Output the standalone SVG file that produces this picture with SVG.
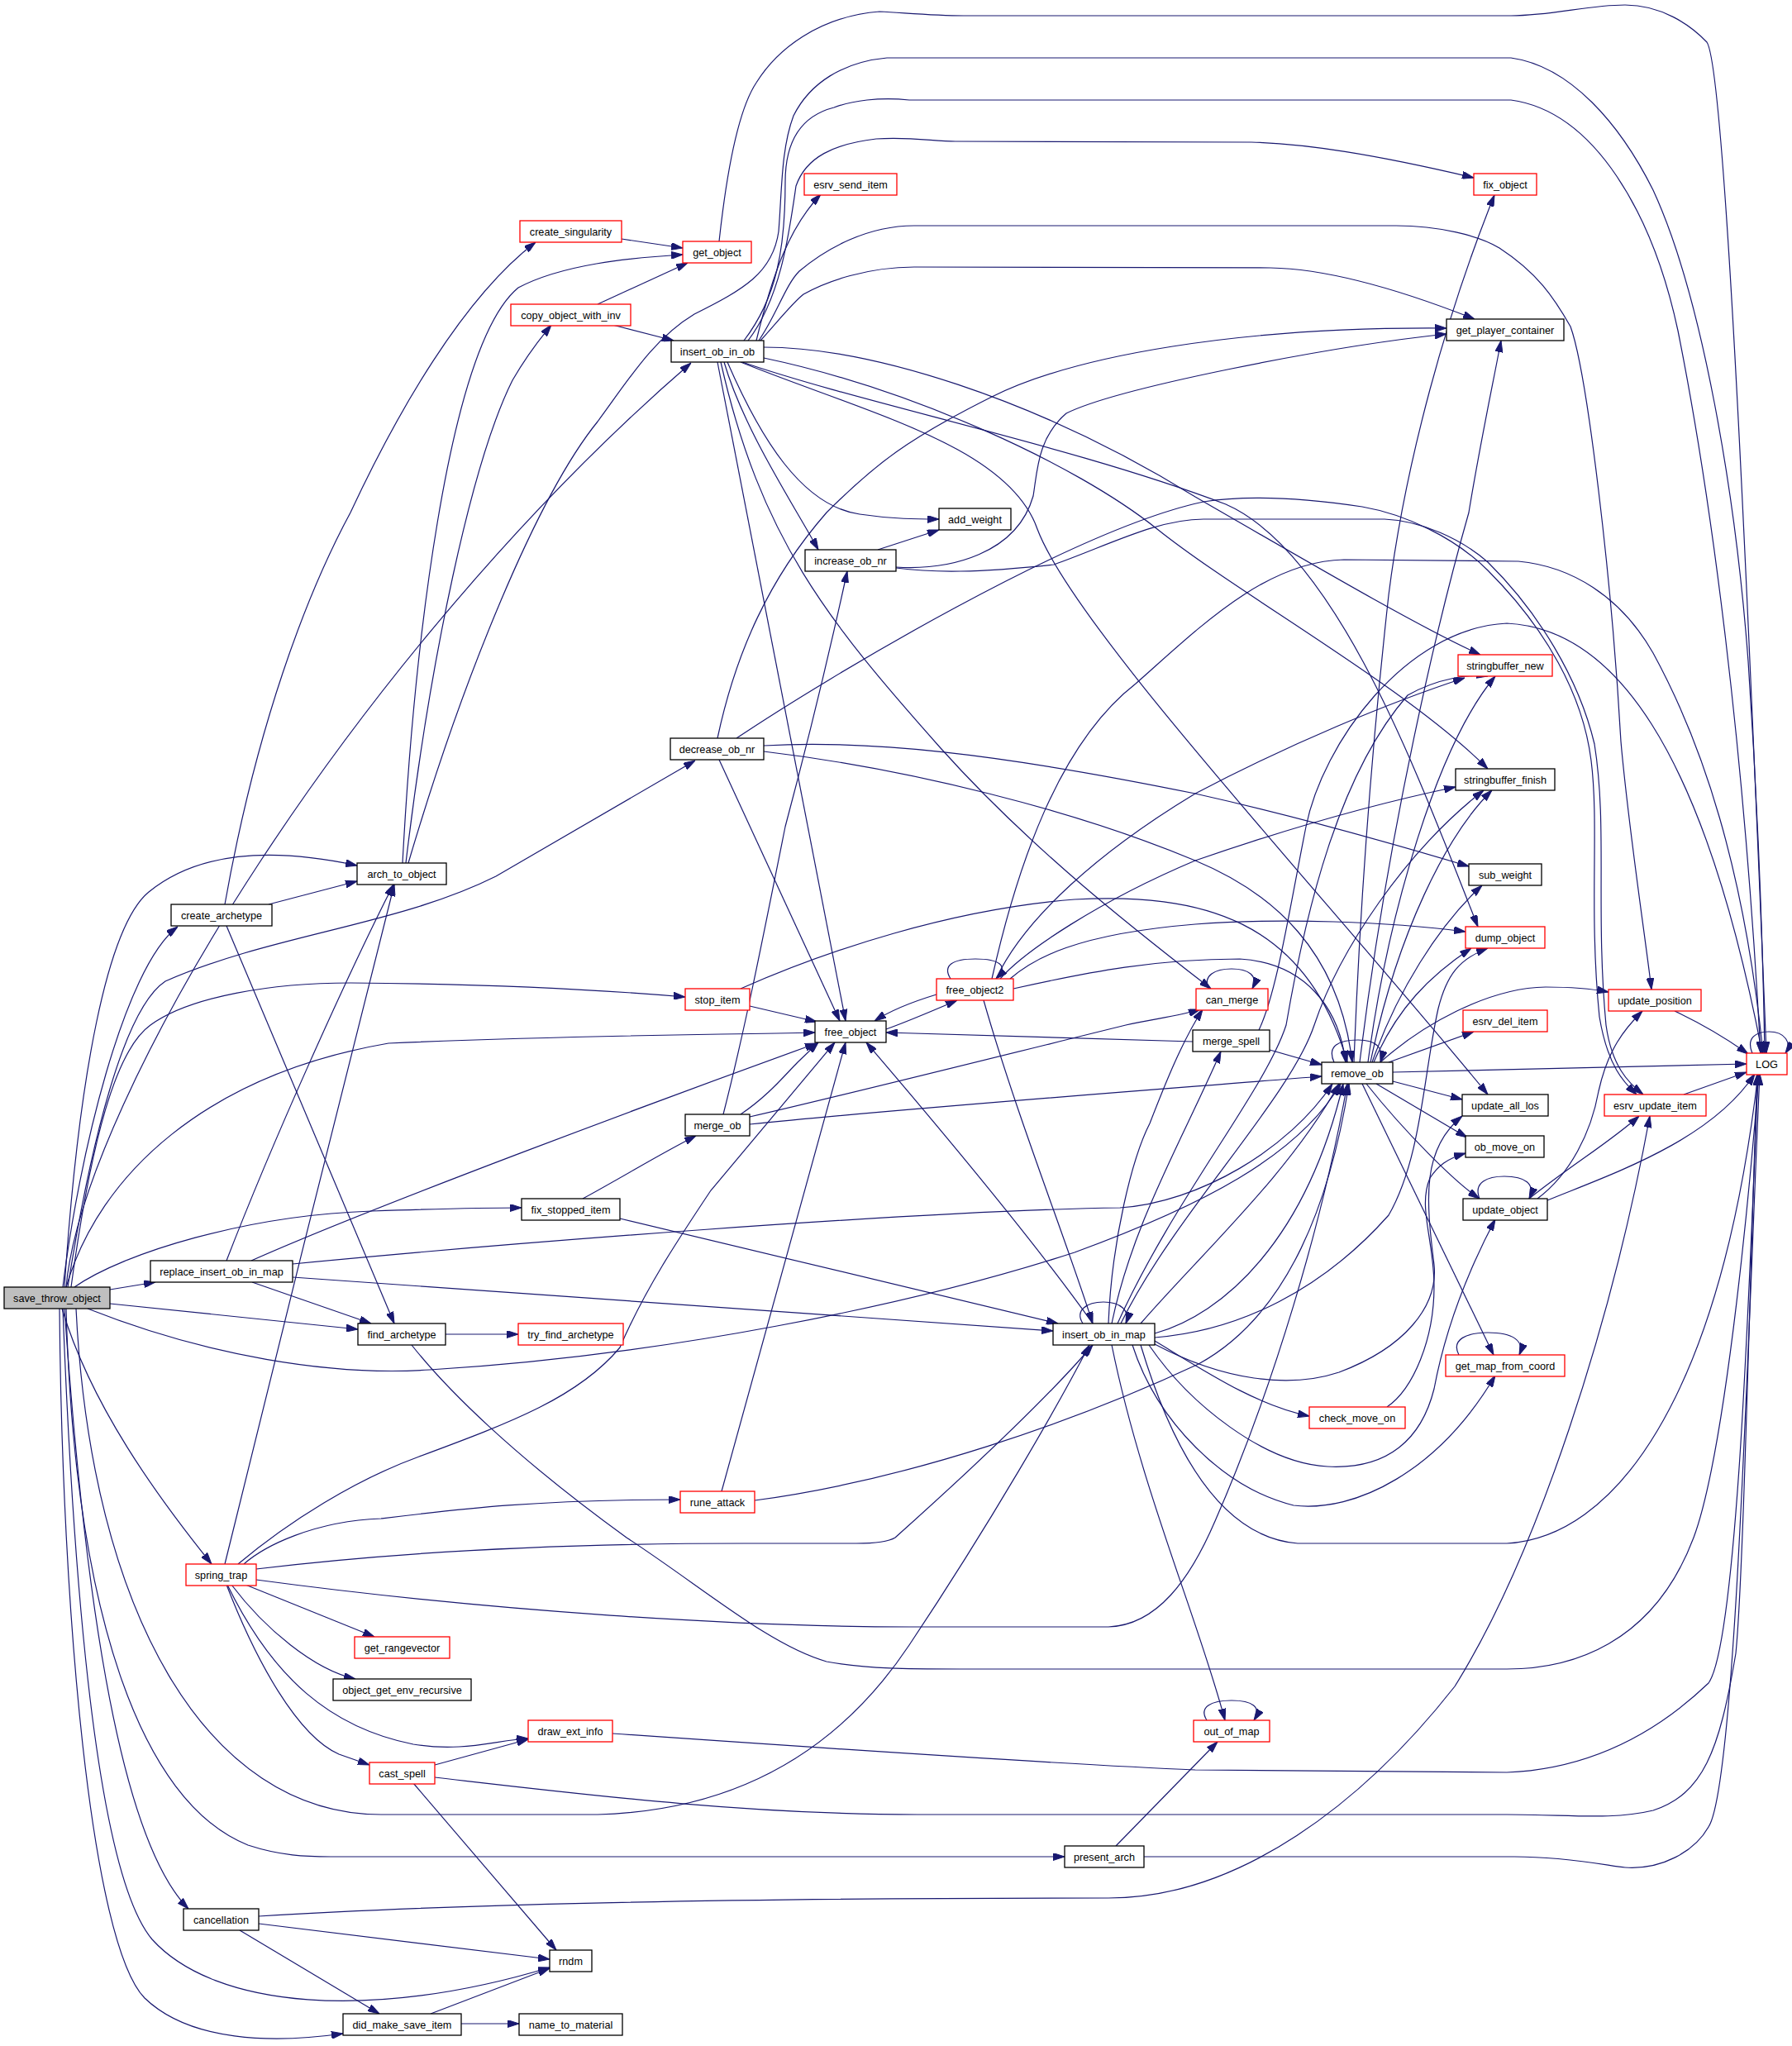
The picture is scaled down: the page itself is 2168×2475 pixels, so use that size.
<svg xmlns="http://www.w3.org/2000/svg" width="2168" height="2475" viewBox="0 0 2168 2475">
<style>
.n rect{fill:#fff;stroke:#000;stroke-width:1.3}
.n.r rect{stroke:#ff0000}
.n.g rect{fill:#bfbfbf}
.n text{font-family:"Liberation Sans",Arial,sans-serif;font-size:12.7px;text-anchor:middle;fill:#000}
#edges path{fill:none;stroke:#191970;stroke-width:1.2;marker-end:url(#a)}
</style>
<defs>
<marker id="a" markerWidth="14" markerHeight="9" refX="14" refY="4.5" orient="auto" markerUnits="userSpaceOnUse"><path d="M0,0 L14,4.5 L0,9 z" fill="#191970" stroke="#191970" stroke-width="1"/></marker>
</defs>
<rect width="2168" height="2475" fill="#fff"/>
<g id="edges">
<path d="M752,289 L826,300"/>
<path d="M723,368 L832,318"/>
<path d="M741,393 L815,412"/>
<path d="M870,292 C880,200 895,130 915,100 C940,60 990,20 1064,14 C1100,16 1130,19 1166,19 L1828,19 C1880,19 1920,6 1966,6 C2010,6 2045,30 2065,51 C2085,80 2110,600 2137,1274"/>
<path d="M80,1557 C100,1330 430,790 836,439"/>
<path d="M76,1557 C95,1400 150,1170 215,1121"/>
<path d="M78,1557 C95,1300 130,1120 180,1079 C240,1030 330,1025 432,1047"/>
<path d="M82,1557 C110,1380 150,1220 200,1187 C330,1130 480,1120 600,1060 L841,920"/>
<path d="M86,1557 C110,1380 140,1270 182,1240 C230,1205 330,1189 424,1189 C560,1190 700,1195 829,1206"/>
<path d="M80,1557 C120,1420 250,1300 470,1262 C700,1252 850,1252 986,1249"/>
<path d="M90,1557 C150,1515 300,1470 450,1465 C540,1462 590,1461 631,1461"/>
<path d="M133,1560 L188,1551"/>
<path d="M133,1577 L433,1608"/>
<path d="M106,1583 C250,1640 400,1665 520,1657 C800,1640 1100,1580 1300,1515 C1450,1460 1570,1400 1622,1311"/>
<path d="M92,1583 C110,1950 250,2195 461,2195 L723,2195 C900,2190 1020,2110 1100,1990 C1200,1840 1280,1700 1318,1627"/>
<path d="M75,1583 C110,1700 190,1810 256,1892"/>
<path d="M80,1583 C90,1950 170,2180 300,2232 C340,2245 370,2246 400,2246 L1288,2246"/>
<path d="M78,1583 C100,1900 140,2220 228,2309"/>
<path d="M76,1583 C90,1950 120,2270 184,2346 C260,2430 450,2445 665,2380"/>
<path d="M72,1583 C75,1950 110,2350 175,2417 C230,2470 330,2472 415,2460"/>
<path d="M274,1525 C330,1380 420,1180 476,1070"/>
<path d="M304,1525 C450,1460 800,1330 988,1262"/>
<path d="M354,1529 C600,1505 1100,1465 1355,1461 C1450,1455 1560,1390 1612,1311"/>
<path d="M354,1545 L1274,1610"/>
<path d="M305,1551 L449,1601"/>
<path d="M325,1094 L432,1066"/>
<path d="M272,1094 C310,880 370,720 424,620 C480,500 560,360 648,293"/>
<path d="M274,1120 L477,1601"/>
<path d="M487,1044 C500,800 540,420 627,348 C680,320 760,312 826,308"/>
<path d="M491,1044 C520,800 570,560 620,460 C640,425 655,408 667,393"/>
<path d="M494,1044 C560,820 650,600 723,510 C760,460 790,410 840,380 C900,350 935,330 942,280 C946,230 945,180 960,140 C980,100 1020,75 1073,70 L1828,70 C1900,80 1960,150 2000,230 C2060,360 2100,600 2115,800 C2125,950 2132,1100 2135,1274"/>
<path d="M915,412 C935,330 955,275 993,235"/>
<path d="M900,412 C940,360 950,300 950,220 C950,170 970,140 1009,130 C1030,122 1064,117 1100,121 L1828,121 C1930,135 2000,260 2030,400 C2070,600 2110,900 2130,1274"/>
<path d="M905,412 C945,360 955,280 963,225 C975,190 1009,174 1060,168 C1100,165 1130,171 1156,171 L1514,172 C1580,174 1660,186 1783,215"/>
<path d="M920,412 C940,390 960,365 972,356 C1000,340 1050,323 1106,323 L1537,324 C1600,325 1680,345 1784,386"/>
<path d="M918,412 C940,380 950,345 967,328 C1000,300 1050,273 1106,273 L1689,273 C1740,273 1790,285 1814,300 C1860,330 1880,360 1900,395 C1920,450 1950,700 1961,897 C1970,1000 1990,1130 1998,1197"/>
<path d="M880,438 C920,530 970,612 1040,622 C1080,628 1110,628 1136,628"/>
<path d="M876,438 C900,520 960,610 990,665"/>
<path d="M868,438 L1023,1235"/>
<path d="M872,438 C920,650 1000,750 1138,905 C1250,1030 1380,1130 1465,1196"/>
<path d="M924,420 C1050,420 1250,480 1446,601 C1600,690 1720,760 1791,792"/>
<path d="M924,433 C1100,470 1300,560 1400,640 C1500,720 1700,830 1800,930"/>
<path d="M898,438 C1050,490 1300,540 1483,610 C1620,670 1720,950 1788,1121"/>
<path d="M896,438 C1050,500 1220,540 1255,640 C1300,760 1600,1080 1800,1324"/>
<path d="M1062,665 L1136,641"/>
<path d="M1084,686 C1150,690 1230,670 1250,600 C1255,570 1255,530 1290,500 C1350,470 1600,420 1750,404"/>
<path d="M1084,687 C1130,693 1182,693 1275,683 C1340,660 1400,628 1456,628 L1675,628 C1720,630 1768,652 1800,680 C1860,739 1910,820 1929,900 C1945,1000 1930,1100 1943,1240 C1950,1290 1970,1310 1988,1324"/>
<path d="M868,893 C890,790 930,700 1000,620 C1060,560 1100,530 1200,480 C1300,430 1500,395 1750,397"/>
<path d="M891,893 C1000,820 1300,640 1456,607 C1500,600 1560,600 1648,613 C1700,622 1760,650 1800,690 C1870,760 1915,840 1925,920 C1935,1000 1922,1100 1935,1230 C1945,1290 1965,1310 1980,1324"/>
<path d="M924,902 C1050,895 1200,910 1446,960 C1580,990 1700,1025 1777,1048"/>
<path d="M924,909 C1100,930 1300,980 1446,1041 C1540,1080 1620,1150 1636,1285"/>
<path d="M870,919 L1016,1235"/>
<path d="M907,1217 L988,1236"/>
<path d="M896,1196 C1000,1150 1150,1100 1300,1088 C1450,1080 1580,1110 1630,1285"/>
<path d="M1150,1184 C1140,1168 1152,1160 1180,1160 C1208,1160 1222,1168 1205,1184"/>
<path d="M1133,1203 C1100,1213 1075,1224 1058,1235"/>
<path d="M1072,1245 C1100,1235 1130,1222 1158,1210"/>
<path d="M1205,1184 C1240,1110 1330,1030 1446,960 C1560,900 1680,850 1772,820"/>
<path d="M1210,1184 C1240,1150 1330,1090 1446,1041 C1550,1005 1650,975 1761,952"/>
<path d="M1222,1184 C1250,1160 1300,1130 1446,1118 C1550,1110 1680,1115 1773,1127"/>
<path d="M1226,1196 C1320,1175 1400,1160 1500,1160 C1580,1165 1620,1220 1628,1285"/>
<path d="M1200,1184 C1230,1050 1280,900 1374,827 C1450,760 1530,679 1626,677 L1837,679 C1900,685 1960,720 2000,790 C2060,900 2110,1050 2133,1274"/>
<path d="M1190,1210 C1230,1350 1290,1500 1322,1601"/>
<path d="M896,1348 C930,1325 950,1300 965,1285 L990,1261"/>
<path d="M875,1348 C900,1250 920,1150 950,1000 C990,850 1010,760 1025,691"/>
<path d="M907,1351 C1000,1330 1200,1280 1362,1240 C1400,1232 1430,1228 1452,1221"/>
<path d="M907,1360 C1100,1340 1400,1318 1599,1302"/>
<path d="M1443,1260 L1072,1249"/>
<path d="M1536,1270 L1599,1288"/>
<path d="M1523,1246 C1545,1200 1560,1100 1580,1000 C1600,900 1700,760 1823,754 C1950,760 2060,900 2132,1274"/>
<path d="M1614,1285 C1605,1265 1620,1258 1643,1258 C1665,1258 1675,1268 1670,1285"/>
<path d="M1685,1297 L2113,1287"/>
<path d="M1685,1308 L1769,1330"/>
<path d="M1665,1311 L1775,1376"/>
<path d="M1653,1311 C1700,1370 1760,1430 1790,1450"/>
<path d="M1648,1311 L1807,1639"/>
<path d="M1680,1285 L1783,1248"/>
<path d="M1660,1285 C1690,1200 1740,1120 1793,1071"/>
<path d="M1662,1285 C1690,1220 1730,1180 1780,1147"/>
<path d="M1655,1285 C1680,1100 1740,900 1809,818"/>
<path d="M1658,1285 C1690,1130 1750,1010 1805,956"/>
<path d="M1645,1285 C1680,1000 1740,750 1777,620 C1790,540 1805,470 1816,412"/>
<path d="M1638,1285 C1645,1100 1660,900 1680,720 C1700,560 1750,380 1808,236"/>
<path d="M1670,1285 C1720,1240 1800,1195 1870,1194 C1900,1194 1925,1196 1946,1200"/>
<path d="M2037,1324 L2113,1297"/>
<path d="M2026,1223 C2045,1232 2080,1250 2115,1275"/>
<path d="M1790,1450 C1782,1430 1800,1423 1820,1423 C1845,1423 1858,1432 1850,1450"/>
<path d="M1850,1450 C1900,1410 1950,1380 1983,1350"/>
<path d="M1860,1450 C1900,1420 1925,1370 1934,1320 C1945,1270 1965,1245 1987,1223"/>
<path d="M1872,1452 C1950,1420 2070,1380 2123,1299"/>
<path d="M1678,1702 C1710,1680 1735,1620 1735,1556 C1735,1500 1715,1460 1730,1425 C1740,1410 1750,1402 1773,1395"/>
<path d="M1310,1601 C1300,1585 1315,1575 1335,1575 C1355,1575 1368,1585 1362,1601"/>
<path d="M1322,1601 C1250,1500 1150,1380 1048,1261"/>
<path d="M1341,1601 C1345,1500 1370,1400 1391,1359 C1410,1310 1430,1260 1455,1221"/>
<path d="M1345,1601 C1370,1480 1430,1380 1477,1272"/>
<path d="M1397,1613 C1480,1590 1580,1500 1625,1311"/>
<path d="M1380,1601 C1450,1520 1560,1420 1620,1311"/>
<path d="M1352,1601 C1420,1450 1530,1320 1556,1240 C1580,1100 1620,936 1703,841 C1740,820 1780,815 1800,818"/>
<path d="M1356,1601 C1420,1470 1560,1330 1590,1240 C1620,1150 1700,1030 1795,956"/>
<path d="M1397,1618 C1500,1610 1600,1560 1680,1470 C1720,1400 1722,1300 1740,1220 C1750,1180 1765,1160 1800,1147"/>
<path d="M1397,1626 C1480,1670 1560,1680 1620,1660 C1700,1630 1740,1580 1735,1530 C1725,1450 1720,1390 1769,1350"/>
<path d="M1390,1627 C1440,1700 1530,1770 1606,1774 C1680,1778 1720,1740 1735,1680 C1750,1600 1780,1530 1809,1475"/>
<path d="M1370,1627 C1400,1720 1480,1800 1565,1821 C1640,1830 1740,1780 1809,1664"/>
<path d="M1397,1622 C1460,1660 1520,1700 1584,1713"/>
<path d="M1345,1627 C1380,1800 1450,1960 1482,2081"/>
<path d="M1380,1627 C1420,1760 1480,1860 1570,1867 L1823,1867 C1950,1860 2080,1700 2127,1299"/>
<path d="M705,1450 C760,1420 800,1395 842,1374"/>
<path d="M750,1474 L1280,1601"/>
<path d="M539,1614 L627,1614"/>
<path d="M498,1627 C540,1680 620,1760 758,1860 C850,1920 930,1990 1000,2010 C1050,2019 1100,2019 1161,2019 L1823,2019 C1900,2019 2000,1990 2049,1860 C2090,1750 2120,1400 2128,1299"/>
<path d="M272,1892 C330,1650 420,1300 477,1070"/>
<path d="M288,1892 C350,1840 430,1790 507,1762 C620,1720 700,1690 750,1630 C780,1560 820,1500 860,1440 L1010,1261"/>
<path d="M295,1892 C320,1870 380,1840 461,1837 C560,1825 650,1814 823,1814"/>
<path d="M310,1898 C500,1875 700,1867 900,1867 L1036,1867 C1060,1867 1075,1865 1083,1860 C1150,1800 1260,1700 1322,1627"/>
<path d="M310,1911 C600,1950 900,1968 1100,1968 L1341,1968 C1400,1966 1440,1910 1470,1840 C1540,1680 1600,1480 1630,1311"/>
<path d="M297,1917 L453,1980"/>
<path d="M280,1917 C320,1970 380,2020 430,2031"/>
<path d="M275,1917 C330,2030 400,2090 500,2110 C560,2120 600,2105 639,2103"/>
<path d="M274,1917 C310,2010 360,2100 410,2122 L447,2135"/>
<path d="M873,1804 L1023,1261"/>
<path d="M913,1815 C1100,1790 1300,1720 1450,1650 C1560,1590 1610,1450 1632,1311"/>
<path d="M741,2097 C1000,2115 1300,2135 1446,2141 L1823,2144 C1920,2140 2000,2100 2067,2036 C2100,1990 2115,1600 2127,1299"/>
<path d="M526,2135 L639,2104"/>
<path d="M500,2157 L673,2359"/>
<path d="M526,2150 C700,2170 900,2195 1110,2195 L1823,2195 C1900,2195 1950,2202 2000,2190 C2060,2170 2080,2120 2100,2000 C2110,1900 2118,1500 2126,1299"/>
<path d="M1350,2233 L1473,2107"/>
<path d="M1384,2246 L1832,2246 C1900,2246 1950,2258 1966,2259 C2010,2262 2050,2240 2067,2210 C2100,2160 2115,1600 2129,1299"/>
<path d="M313,2327 L665,2370"/>
<path d="M290,2335 L459,2436"/>
<path d="M313,2318 C600,2300 1000,2296 1341,2296 C1500,2296 1650,2180 1760,2040 C1860,1880 1950,1600 1996,1350"/>
<path d="M521,2436 L665,2381"/>
<path d="M558,2448 L628,2448"/>
<path d="M1460,2081 C1450,2065 1465,2057 1490,2057 C1515,2057 1527,2065 1517,2081"/>
<path d="M1765,1639 C1755,1620 1775,1612 1800,1612 C1830,1612 1845,1622 1838,1639"/>
<path d="M1462,1196 C1455,1180 1470,1172 1490,1172 C1510,1172 1523,1180 1515,1196"/>
<path d="M2120,1274 C2112,1255 2125,1248 2140,1248 C2160,1248 2168,1262 2160,1274"/>
</g>
<g id="n_save_throw_object" class="n g"><rect x="5" y="1557" width="128" height="26"/><text x="69" y="1574.5">save_throw_object</text></g>
<g id="n_replace_insert_ob_in_map" class="n"><rect x="182" y="1525" width="172" height="26"/><text x="268" y="1542.5">replace_insert_ob_in_map</text></g>
<g id="n_create_archetype" class="n"><rect x="207" y="1094" width="122" height="26"/><text x="268" y="1111.5">create_archetype</text></g>
<g id="n_arch_to_object" class="n"><rect x="432" y="1044" width="108" height="26"/><text x="486" y="1061.5">arch_to_object</text></g>
<g id="n_create_singularity" class="n r"><rect x="629" y="267" width="123" height="26"/><text x="690.5" y="284.5">create_singularity</text></g>
<g id="n_copy_object_with_inv" class="n r"><rect x="618" y="368" width="145" height="26"/><text x="690.5" y="385.5">copy_object_with_inv</text></g>
<g id="n_get_object" class="n r"><rect x="826" y="292" width="83" height="26"/><text x="867.5" y="309.5">get_object</text></g>
<g id="n_insert_ob_in_ob" class="n"><rect x="812" y="412" width="112" height="26"/><text x="868" y="429.5">insert_ob_in_ob</text></g>
<g id="n_esrv_send_item" class="n r"><rect x="973" y="210" width="112" height="26"/><text x="1029" y="227.5">esrv_send_item</text></g>
<g id="n_fix_object" class="n r"><rect x="1783" y="210" width="76" height="26"/><text x="1821" y="227.5">fix_object</text></g>
<g id="n_get_player_container" class="n"><rect x="1750" y="386" width="142" height="26"/><text x="1821" y="403.5">get_player_container</text></g>
<g id="n_add_weight" class="n"><rect x="1136" y="615" width="87" height="26"/><text x="1179.5" y="632.5">add_weight</text></g>
<g id="n_increase_ob_nr" class="n"><rect x="974" y="665" width="110" height="26"/><text x="1029" y="682.5">increase_ob_nr</text></g>
<g id="n_decrease_ob_nr" class="n"><rect x="811" y="893" width="113" height="26"/><text x="867.5" y="910.5">decrease_ob_nr</text></g>
<g id="n_stringbuffer_new" class="n r"><rect x="1764" y="792" width="114" height="26"/><text x="1821" y="809.5">stringbuffer_new</text></g>
<g id="n_stringbuffer_finish" class="n"><rect x="1761" y="930" width="120" height="26"/><text x="1821" y="947.5">stringbuffer_finish</text></g>
<g id="n_sub_weight" class="n"><rect x="1777" y="1045" width="88" height="26"/><text x="1821" y="1062.5">sub_weight</text></g>
<g id="n_dump_object" class="n r"><rect x="1773" y="1121" width="96" height="26"/><text x="1821" y="1138.5">dump_object</text></g>
<g id="n_stop_item" class="n r"><rect x="829" y="1196" width="78" height="26"/><text x="868" y="1213.5">stop_item</text></g>
<g id="n_free_object2" class="n r"><rect x="1133" y="1184" width="93" height="26"/><text x="1179.5" y="1201.5">free_object2</text></g>
<g id="n_can_merge" class="n r"><rect x="1447" y="1196" width="87" height="26"/><text x="1490.5" y="1213.5">can_merge</text></g>
<g id="n_update_position" class="n r"><rect x="1946" y="1197" width="112" height="26"/><text x="2002" y="1214.5">update_position</text></g>
<g id="n_esrv_del_item" class="n r"><rect x="1770" y="1222" width="102" height="26"/><text x="1821" y="1239.5">esrv_del_item</text></g>
<g id="n_free_object" class="n"><rect x="986" y="1235" width="86" height="26"/><text x="1029" y="1252.5">free_object</text></g>
<g id="n_merge_spell" class="n"><rect x="1443" y="1246" width="93" height="26"/><text x="1489.5" y="1263.5">merge_spell</text></g>
<g id="n_remove_ob" class="n"><rect x="1599" y="1285" width="86" height="26"/><text x="1642" y="1302.5">remove_ob</text></g>
<g id="n_LOG" class="n r"><rect x="2113" y="1274" width="49" height="26"/><text x="2137.5" y="1291.5">LOG</text></g>
<g id="n_update_all_los" class="n"><rect x="1769" y="1324" width="104" height="26"/><text x="1821" y="1341.5">update_all_los</text></g>
<g id="n_esrv_update_item" class="n r"><rect x="1941" y="1324" width="123" height="26"/><text x="2002.5" y="1341.5">esrv_update_item</text></g>
<g id="n_merge_ob" class="n"><rect x="829" y="1348" width="78" height="26"/><text x="868" y="1365.5">merge_ob</text></g>
<g id="n_ob_move_on" class="n"><rect x="1773" y="1374" width="95" height="26"/><text x="1820.5" y="1391.5">ob_move_on</text></g>
<g id="n_fix_stopped_item" class="n"><rect x="631" y="1450" width="119" height="26"/><text x="690.5" y="1467.5">fix_stopped_item</text></g>
<g id="n_update_object" class="n"><rect x="1770" y="1450" width="102" height="26"/><text x="1821" y="1467.5">update_object</text></g>
<g id="n_find_archetype" class="n"><rect x="433" y="1601" width="106" height="26"/><text x="486" y="1618.5">find_archetype</text></g>
<g id="n_try_find_archetype" class="n r"><rect x="627" y="1601" width="127" height="26"/><text x="690.5" y="1618.5">try_find_archetype</text></g>
<g id="n_insert_ob_in_map" class="n"><rect x="1274" y="1601" width="123" height="26"/><text x="1335.5" y="1618.5">insert_ob_in_map</text></g>
<g id="n_get_map_from_coord" class="n r"><rect x="1749" y="1639" width="144" height="26"/><text x="1821" y="1656.5">get_map_from_coord</text></g>
<g id="n_check_move_on" class="n r"><rect x="1584" y="1702" width="116" height="26"/><text x="1642" y="1719.5">check_move_on</text></g>
<g id="n_spring_trap" class="n r"><rect x="225" y="1892" width="85" height="26"/><text x="267.5" y="1909.5">spring_trap</text></g>
<g id="n_rune_attack" class="n r"><rect x="823" y="1804" width="90" height="26"/><text x="868" y="1821.5">rune_attack</text></g>
<g id="n_get_rangevector" class="n r"><rect x="429" y="1980" width="115" height="26"/><text x="486.5" y="1997.5">get_rangevector</text></g>
<g id="n_object_get_env_recursive" class="n"><rect x="403" y="2031" width="167" height="26"/><text x="486.5" y="2048.5">object_get_env_recursive</text></g>
<g id="n_draw_ext_info" class="n r"><rect x="639" y="2081" width="102" height="26"/><text x="690" y="2098.5">draw_ext_info</text></g>
<g id="n_out_of_map" class="n r"><rect x="1444" y="2081" width="92" height="26"/><text x="1490" y="2098.5">out_of_map</text></g>
<g id="n_cast_spell" class="n r"><rect x="447" y="2132" width="79" height="26"/><text x="486.5" y="2149.5">cast_spell</text></g>
<g id="n_present_arch" class="n"><rect x="1288" y="2233" width="96" height="26"/><text x="1336" y="2250.5">present_arch</text></g>
<g id="n_cancellation" class="n"><rect x="222" y="2309" width="91" height="26"/><text x="267.5" y="2326.5">cancellation</text></g>
<g id="n_rndm" class="n"><rect x="665" y="2359" width="51" height="26"/><text x="690.5" y="2376.5">rndm</text></g>
<g id="n_did_make_save_item" class="n"><rect x="415" y="2436" width="143" height="26"/><text x="486.5" y="2453.5">did_make_save_item</text></g>
<g id="n_name_to_material" class="n"><rect x="628" y="2436" width="125" height="26"/><text x="690.5" y="2453.5">name_to_material</text></g>
</svg>
